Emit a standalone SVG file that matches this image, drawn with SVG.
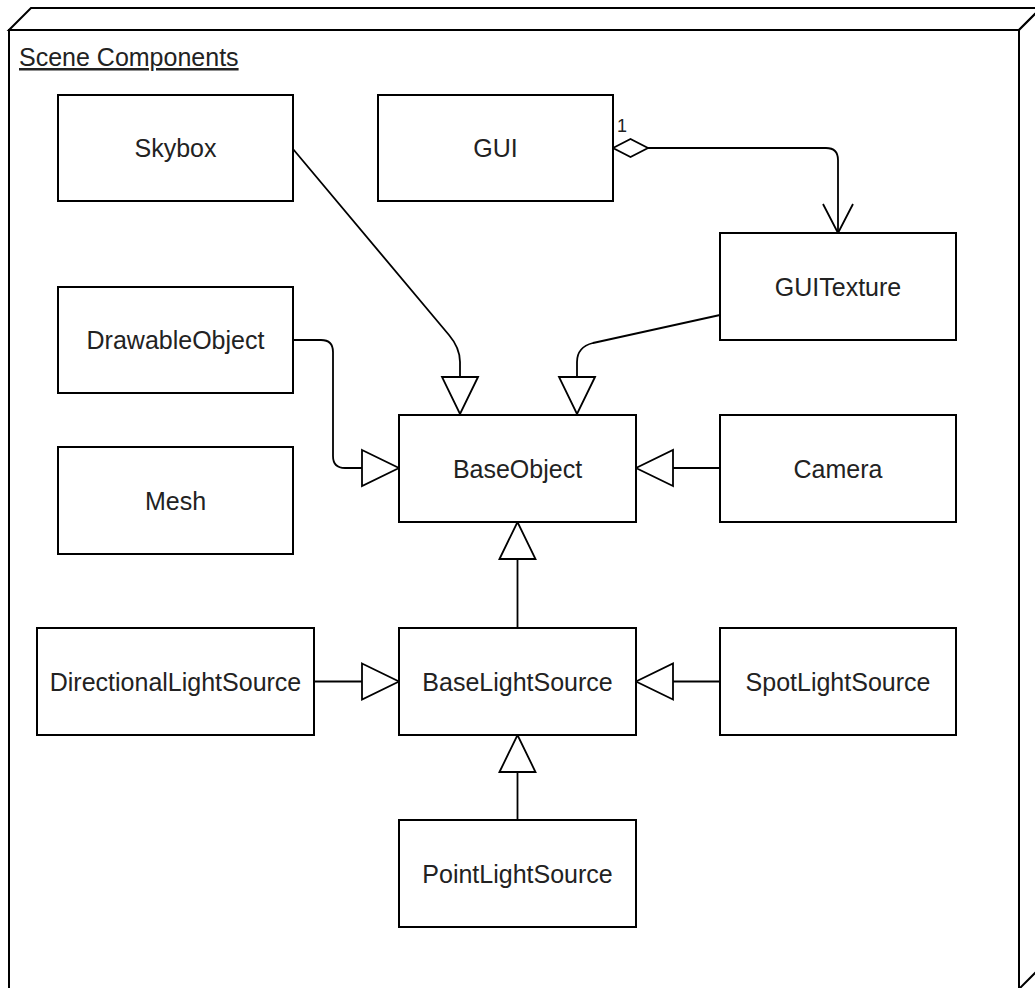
<svg xmlns="http://www.w3.org/2000/svg" width="1035" height="988" viewBox="0 0 1035 988">
<style>
.box{fill:#fff;stroke:#000;stroke-width:2}
.lbl{font-family:"Liberation Sans",Arial,sans-serif;font-size:25px;fill:#222;text-anchor:middle}
.edge{fill:none;stroke:#000;stroke-width:1.8}
.pkg{fill:#fff;stroke:#000;stroke-width:2}
</style>
<defs>
<marker id="tri" viewBox="-2 -2 41 40" refX="37" refY="18" markerWidth="41" markerHeight="40" markerUnits="userSpaceOnUse" orient="auto">
<path d="M0,0 L37,18 L0,36 Z" fill="#fff" stroke="#000" stroke-width="1.8"/>
</marker>
<marker id="open" viewBox="-2 -2 34 34" refX="29" refY="15" markerWidth="34" markerHeight="34" markerUnits="userSpaceOnUse" orient="auto">
<path d="M0,0 L29,15 L0,30" fill="none" stroke="#000" stroke-width="1.8"/>
</marker>
<marker id="dia" viewBox="-2 -2 39 22" refX="0" refY="9" markerWidth="39" markerHeight="22" markerUnits="userSpaceOnUse" orient="auto">
<path d="M0,9 L17.5,0 L35,9 L17.5,18 Z" fill="#fff" stroke="#000" stroke-width="1.8"/>
</marker>
</defs>
<rect width="1035" height="988" fill="#fff"/>
<g id="package">
<polygon class="pkg" points="9,30 31,8 1041,8 1019,30"/>
<polygon class="pkg" points="1019,30 1041,8 1041,967 1019,989"/>
<rect class="pkg" x="9" y="30" width="1010" height="959"/>
<text x="19" y="66" style="font-family:'Liberation Sans',Arial,sans-serif;font-size:25px;fill:#222;text-decoration:underline">Scene Components</text>
</g>
<g id="connectors">
<path class="edge" d="M293,149 L449,335 Q460,348 460,362 L460,414" marker-end="url(#tri)"/>
<path class="edge" d="M720,315 L593,343 Q577,347 577,362 L577,414" marker-end="url(#tri)"/>
<path class="edge" d="M293,340 L321,340 Q333,340 333,352 L333,456 Q333,468 345,468 L399,468" marker-end="url(#tri)"/>
<path class="edge" d="M720,468 L636,468" marker-end="url(#tri)"/>
<path class="edge" d="M517.5,628 L517.5,522" marker-end="url(#tri)"/>
<path class="edge" d="M314,681.5 L399,681.5" marker-end="url(#tri)"/>
<path class="edge" d="M720,681.5 L636,681.5" marker-end="url(#tri)"/>
<path class="edge" d="M517.5,820 L517.5,735" marker-end="url(#tri)"/>
<path class="edge" d="M613,148 L826,148 Q838,148 838,160 L838,233" marker-start="url(#dia)" marker-end="url(#open)"/>
<text x="617" y="132" style="font-family:'Liberation Sans',Arial,sans-serif;font-size:18px;fill:#222">1</text>
</g>
<g id="Skybox"><rect class="box" x="58" y="95" width="235" height="106"/><text class="lbl" x="175.5" y="157">Skybox</text></g>
<g id="GUI"><rect class="box" x="378" y="95" width="235" height="106"/><text class="lbl" x="495.5" y="157">GUI</text></g>
<g id="GUITexture"><rect class="box" x="720" y="233" width="236" height="107"/><text class="lbl" x="838" y="295.5">GUITexture</text></g>
<g id="DrawableObject"><rect class="box" x="58" y="287" width="235" height="106"/><text class="lbl" x="175.5" y="349">DrawableObject</text></g>
<g id="Mesh"><rect class="box" x="58" y="447" width="235" height="107"/><text class="lbl" x="175.5" y="509.5">Mesh</text></g>
<g id="BaseObject"><rect class="box" x="399" y="415" width="237" height="107"/><text class="lbl" x="517.5" y="477.5">BaseObject</text></g>
<g id="Camera"><rect class="box" x="720" y="415" width="236" height="107"/><text class="lbl" x="838" y="477.5">Camera</text></g>
<g id="DirectionalLightSource"><rect class="box" x="37" y="628" width="277" height="107"/><text class="lbl" x="175.5" y="690.5">DirectionalLightSource</text></g>
<g id="BaseLightSource"><rect class="box" x="399" y="628" width="237" height="107"/><text class="lbl" x="517.5" y="690.5">BaseLightSource</text></g>
<g id="SpotLightSource"><rect class="box" x="720" y="628" width="236" height="107"/><text class="lbl" x="838" y="690.5">SpotLightSource</text></g>
<g id="PointLightSource"><rect class="box" x="399" y="820" width="237" height="107"/><text class="lbl" x="517.5" y="882.5">PointLightSource</text></g>
</svg>
